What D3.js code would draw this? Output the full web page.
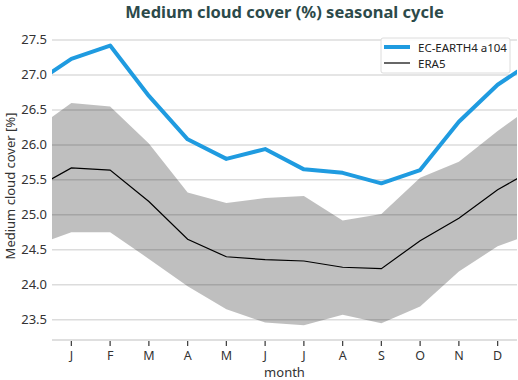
<!DOCTYPE html>
<html>
<head>
<meta charset="utf-8">
<script src="https://cdn.jsdelivr.net/npm/d3@7"></script>
<style>
  body { margin: 0; background: #fff; }
  text { font-family: "Noto Sans", sans-serif; }
</style>
</head>
<body>
<svg id="svg" width="518" height="380"></svg>
<script>
// months 1..12, with wrap-around points at 0 (Dec) and 13 (Jan)
const months = ['J', 'F', 'M', 'A', 'M', 'J', 'J', 'A', 'S', 'O', 'N', 'D'];
const ecEarth = [27.23, 27.42, 26.70, 26.08, 25.80, 25.94, 25.65, 25.60, 25.45, 25.64, 26.33, 26.86];
const era5 = [25.67, 25.64, 25.19, 24.65, 24.40, 24.36, 24.34, 24.25, 24.23, 24.63, 24.95, 25.36];
const era5Upper = [26.60, 26.55, 26.02, 25.32, 25.17, 25.24, 25.27, 24.92, 25.01, 25.53, 25.76, 26.20];
const era5Lower = [24.75, 24.75, 24.37, 23.98, 23.65, 23.46, 23.42, 23.57, 23.45, 23.69, 24.19, 24.55];
const yTicks = [23.5, 24.0, 24.5, 25.0, 25.5, 26.0, 26.5, 27.0, 27.5];

const svg = d3.select('#svg');
const mLeft = 52, mRight = 517, mTop = 28, mBottom = 340;

const x = d3.scaleLinear().domain([0.5, 12.5]).range([mLeft, mRight]);
const y = d3.scaleLinear().domain([23.21, 27.5 + (40 - mTop) / 70]).range([mBottom, mTop]);

// wrap the cycle so lines reach the plot edges
const wrap = arr => [arr[11], ...arr, arr[0]].map((v, i) => ({m: i, v: v}));

svg.append('defs').append('clipPath').attr('id', 'clip')
    .append('rect')
    .attr('x', mLeft).attr('y', mTop)
    .attr('width', mRight - mLeft).attr('height', mBottom - mTop);

// grid
svg.append('g')
    .selectAll('line')
    .data(yTicks)
    .join('line')
    .attr('x1', mLeft).attr('x2', mRight)
    .attr('y1', d => y(d)).attr('y2', d => y(d))
    .style('stroke', '#dcdcdc')
    .style('stroke-width', 1.5);

const plot = svg.append('g').attr('clip-path', 'url(#clip)');

const lowerW = wrap(era5Lower);
const bandData = wrap(era5Upper).map((d, i) => ({m: d.m, hi: d.v, lo: lowerW[i].v}));
plot.append('path')
    .datum(bandData)
    .attr('d', d3.area().x(d => x(d.m)).y0(d => y(d.lo)).y1(d => y(d.hi)))
    .style('fill', '#000')
    .style('fill-opacity', 0.25);

const line = d3.line().x(d => x(d.m)).y(d => y(d.v));

plot.append('path')
    .datum(wrap(era5))
    .attr('d', line)
    .style('fill', 'none')
    .style('stroke', '#000')
    .style('stroke-width', 1.2);

plot.append('path')
    .datum(wrap(ecEarth))
    .attr('d', line)
    .style('fill', 'none')
    .style('stroke', '#1f9be0')
    .style('stroke-width', 4)
    .style('stroke-linejoin', 'round');

// x axis
svg.append('line')
    .attr('x1', mLeft).attr('x2', mRight)
    .attr('y1', mBottom).attr('y2', mBottom)
    .style('stroke', '#d5d5d5')
    .style('stroke-width', 1.5);

const xt = svg.append('g')
    .selectAll('g')
    .data(months)
    .join('g')
    .attr('transform', (d, i) => `translate(${x(i + 1)},${mBottom})`);
xt.append('line')
    .attr('y1', 1).attr('y2', 6)
    .style('stroke', '#444')
    .style('stroke-width', 1.3);
xt.append('text')
    .attr('y', 20)
    .attr('text-anchor', 'middle')
    .style('font-size', '12.5px')
    .style('fill', '#333')
    .text(d => d);

// y tick labels
svg.append('g')
    .selectAll('text')
    .data(yTicks)
    .join('text')
    .attr('x', mLeft - 5)
    .attr('y', d => y(d) + 4.5)
    .attr('text-anchor', 'end')
    .style('font-size', '13px')
    .style('fill', '#333')
    .text(d => d.toFixed(1));

svg.append('text')
    .attr('x', (mLeft + mRight) / 2)
    .attr('y', 377)
    .attr('text-anchor', 'middle')
    .style('font-size', '13px')
    .style('fill', '#333')
    .text('month');

svg.append('text')
    .attr('transform', `translate(15,${(mTop + mBottom) / 2 + 2}) rotate(-90)`)
    .attr('text-anchor', 'middle')
    .style('font-size', '13px')
    .style('fill', '#333')
    .text('Medium cloud cover [%]');

svg.append('text')
    .attr('x', (mLeft + mRight) / 2)
    .attr('y', 18)
    .attr('text-anchor', 'middle')
    .style('font-size', '16.5px')
    .style('font-weight', 'bold')
    .style('fill', '#2c4a4a')
    .text('Medium cloud cover (%) seasonal cycle');

// legend
const lg = svg.append('g').attr('transform', 'translate(381,38)');
lg.append('rect')
    .attr('width', 129).attr('height', 35)
    .attr('rx', 2)
    .style('fill', '#fff')
    .style('fill-opacity', 0.9)
    .style('stroke', '#dcdcdc');
lg.append('line')
    .attr('x1', 3).attr('x2', 29).attr('y1', 9).attr('y2', 9)
    .style('stroke', '#1f9be0').style('stroke-width', 4);
lg.append('line')
    .attr('x1', 3).attr('x2', 29).attr('y1', 25).attr('y2', 25)
    .style('stroke', '#000').style('stroke-width', 1.2);
lg.append('text')
    .attr('x', 37).attr('y', 13.5)
    .style('font-size', '11.5px').style('fill', '#222')
    .text('EC-EARTH4 a104');
lg.append('text')
    .attr('x', 37).attr('y', 29.5)
    .style('font-size', '11.5px').style('fill', '#222')
    .text('ERA5');
</script>
</body>
</html>
